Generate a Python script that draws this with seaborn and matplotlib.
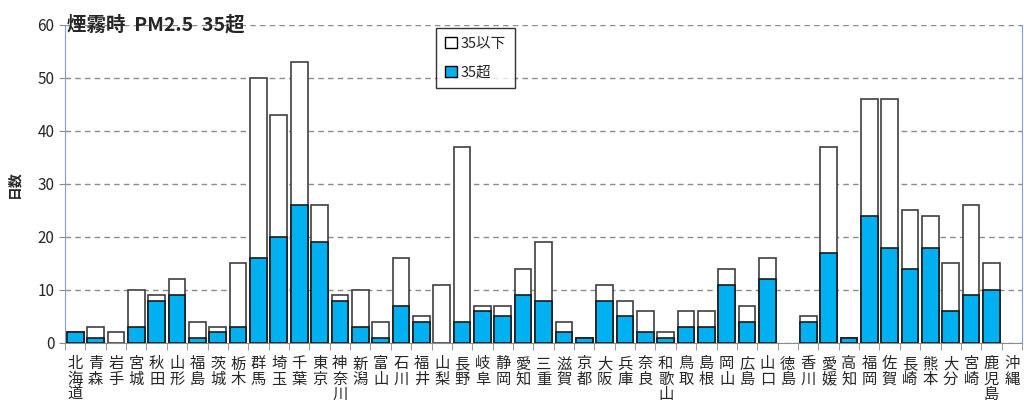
import seaborn as sns
import pandas as pd
import matplotlib.pyplot as plt
from matplotlib.patches import Patch

prefs = ['北海道', '青森', '岩手', '宮城', '秋田', '山形', '福島', '茨城', '栃木', '群馬',
         '埼玉', '千葉', '東京', '神奈川', '新潟', '富山', '石川', '福井', '山梨', '長野',
         '岐阜', '静岡', '愛知', '三重', '滋賀', '京都', '大阪', '兵庫', '奈良', '和歌山',
         '鳥取', '島根', '岡山', '広島', '山口', '徳島', '香川', '愛媛', '高知', '福岡',
         '佐賀', '長崎', '熊本', '大分', '宮崎', '鹿児島', '沖縄']
over35 = [2, 1, 0, 3, 8, 9, 1, 2, 3, 16,
          20, 26, 19, 8, 3, 1, 7, 4, 0, 4,
          6, 5, 9, 8, 2, 1, 8, 5, 2, 1,
          3, 3, 11, 4, 12, 0, 4, 17, 1, 24,
          18, 14, 18, 6, 9, 10, 0]
under35 = [0, 2, 2, 7, 1, 3, 3, 1, 12, 34,
           23, 27, 7, 1, 7, 3, 9, 1, 11, 33,
           1, 2, 5, 11, 2, 0, 3, 3, 4, 1,
           3, 3, 3, 3, 4, 0, 1, 20, 0, 22,
           28, 11, 6, 9, 17, 5, 0]

df = pd.DataFrame({'pref': prefs, 'over': over35, 'under': under35})
df['total'] = df['over'] + df['under']
# zero-height bars are not drawn in the original
df['total'] = df['total'].where(df['total'] > 0)
df['over'] = df['over'].where(df['over'] > 0)

sns.set_style('white')
plt.rcParams['font.family'] = ['Noto Sans CJK JP', 'DejaVu Sans']

fig = plt.figure(figsize=(10.24, 4.03), dpi=100)
ax = fig.add_axes([0.0635, 0.149, 0.9345, 0.789])

sns.barplot(x='pref', y='total', data=df, color='white', edgecolor='#404040',
            linewidth=1.2, width=0.82, ax=ax, zorder=2)
sns.barplot(x='pref', y='over', data=df, color='#00B0F0', saturation=1, edgecolor='#1a1a1a',
            linewidth=1.2, width=0.82, ax=ax, zorder=3)

ax.set_ylim(0, 60)
ax.set_xlim(-0.5, len(prefs) - 0.5)
ax.set_yticks(range(0, 61, 10))
ax.yaxis.grid(True, linestyle=(0, (4, 3)), color='#8c8c8c', linewidth=1)
ax.set_axisbelow(True)

ax.set_xticks(range(len(prefs)))
ax.set_xticklabels(['\n'.join(p) for p in prefs], fontsize=11, linespacing=0.86)
ax.set_xticks([i - 0.5 for i in range(len(prefs) + 1)], minor=True)
ax.tick_params(axis='x', which='major', length=0, pad=9)
ax.tick_params(axis='x', which='minor', length=5, color='#8c8c8c', direction='out', bottom=True)
ax.tick_params(axis='y', labelsize=11, length=4, color='#8c8c8c', left=True)
for lbl in ax.get_xticklabels():
    lbl.set_verticalalignment('top')

ax.set_xlabel('')
ax.set_ylabel('日数', fontsize=10, fontweight='bold', labelpad=12)
for s in ['left', 'right']:
    ax.spines[s].set_color('#7f9fd0')
ax.spines['top'].set_visible(False)
ax.spines['bottom'].set_color('#8c8c8c')

ax.text(0.002, 1.0, '煙霧時  PM2.5  35超', transform=ax.transAxes, fontsize=14,
        fontweight='bold', ha='left', va='center', zorder=5)

handles = [Patch(facecolor='white', edgecolor='black', label='35以下'),
           Patch(facecolor='#00B0F0', edgecolor='black', label='35超')]
leg = ax.legend(handles=handles, loc='upper left', bbox_to_anchor=(0.388, 0.99),
                borderaxespad=0, fontsize=10.5, frameon=True, fancybox=False,
                handlelength=0.8, handleheight=0.8, handletextpad=0.3,
                borderpad=0.6, labelspacing=1.0)
leg.get_frame().set_edgecolor('black')
leg.get_frame().set_linewidth(1)

fig.savefig('out.png', dpi=100)
